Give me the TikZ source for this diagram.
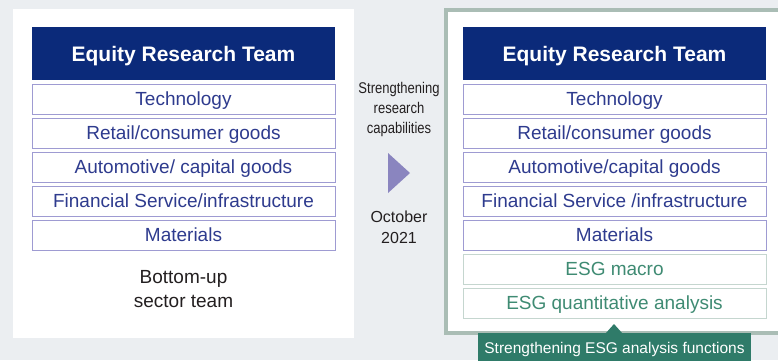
\documentclass[tikz,border=0pt]{standalone}
\usepackage{fontspec}
\setmainfont{Liberation Sans}
\newfontfamily\narrowfont[FakeStretch=0.84]{Liberation Sans}
\definecolor{bgc}{HTML}{EBEEF1}
\definecolor{navy}{HTML}{0B2A7A}
\definecolor{rowline}{HTML}{9E9BD2}
\definecolor{rowtext}{HTML}{2E3B8E}
\definecolor{esgline}{HTML}{C5D6CF}
\definecolor{esgtext}{HTML}{3F8B73}
\definecolor{panelline}{HTML}{AABDB5}
\definecolor{callout}{HTML}{2F7B69}
\definecolor{arrowc}{HTML}{8A85BF}
\definecolor{darktext}{HTML}{231F20}
\tikzset{
  header/.style={fill=navy, draw=none, minimum width=303pt, minimum height=53pt, inner sep=0pt,
    text height=15pt, text depth=0pt, text=white, font=\fontsize{21}{24}\selectfont\bfseries},
  row/.style={draw=rowline, line width=1pt, fill=white, minimum width=303pt, minimum height=30pt,
    inner sep=0pt, text height=13.6pt, text depth=0pt, text=rowtext, font=\fontsize{19}{22}\selectfont},
  esgrow/.style={row, draw=esgline, text=esgtext},
  midtext/.style={text=darktext, align=center, inner sep=0pt},
}
\begin{document}
\begin{tikzpicture}[x=1pt, y=-1pt]
\useasboundingbox[fill=bgc] (0,0) rectangle (778,360);
% left panel
\fill[white] (13,9) rectangle (354,338);
% right panel
\draw[panelline, line width=4pt, fill=white] (446,10) rectangle (790,333);

% left column
\node[header] (lh) at (183.5,53.5) {Equity Research Team};
\node[row] (l1) at (183.5,99) {Technology};
\node[row] (l2) at (183.5,133) {Retail/consumer goods};
\node[row] (l3) at (183.5,167) {Automotive/ capital goods};
\node[row] (l4) at (183.5,201) {Financial Service/infrastructure};
\node[row] (l5) at (183.5,235) {Materials};
\node[midtext, anchor=base, font=\fontsize{19}{24}\selectfont] (lbl) at (183.5,307) {Bottom-up\\sector team};

% right column
\node[header] (rh) at (614.5,53.5) {Equity Research Team};
\node[row] (r1) at (614.5,99) {Technology};
\node[row] (r2) at (614.5,133) {Retail/consumer goods};
\node[row] (r3) at (614.5,167) {Automotive/capital goods};
\node[row] (r4) at (614.5,201) {Financial Service /infrastructure};
\node[row] (r5) at (614.5,235) {Materials};
\node[esgrow] (r6) at (614.5,269) {ESG macro};
\node[esgrow] (r7) at (614.5,303) {ESG quantitative analysis};

% middle
\node[midtext, anchor=base, font=\narrowfont\fontsize{15.5}{20}\selectfont] (mt) at (399,133.5) {Strengthening\\research\\capabilities};
\fill[arrowc] (388,153) -- (410,173) -- (388,193) -- cycle;
\node[midtext, anchor=base, font=\fontsize{16}{21}\selectfont] (md) at (399,243) {October\\2021};

% callout
\fill[callout] (478,333) rectangle (751,362);
\fill[callout] (605.5,333.5) -- (614,324) -- (622.5,333.5) -- cycle;
\node[text=white, anchor=base, inner sep=0pt, font=\fontsize{15.5}{18}\selectfont] (co) at (614.5,353) {Strengthening ESG analysis functions};
\end{tikzpicture}
\end{document}
